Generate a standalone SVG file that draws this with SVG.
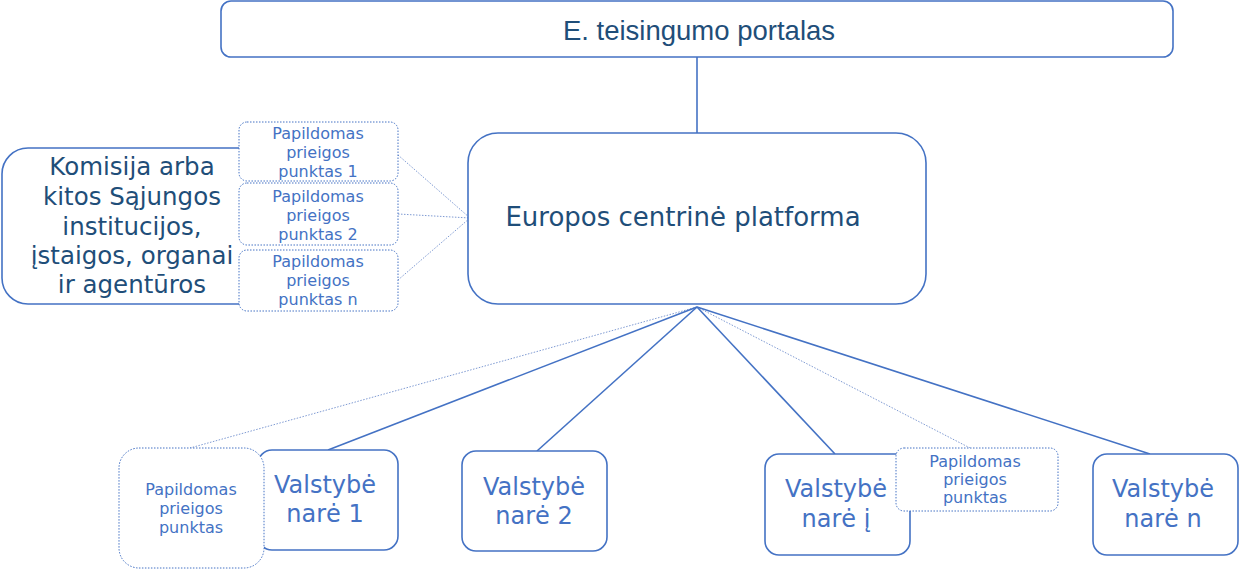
<svg xmlns="http://www.w3.org/2000/svg" width="1240" height="570" viewBox="0 0 1240 570">
<style>
.box{fill:#fff;stroke:#4472C4;stroke-width:1.6}
.dot{fill:#fff;stroke:#4472C4;stroke-width:1;stroke-dasharray:1.5 1.5}
.ln{stroke:#4472C4;stroke-width:1.6;fill:none}
.dl{stroke:#7F9BD3;stroke-width:1;stroke-dasharray:1.5 1.5;fill:none}
.dark{font-family:"DejaVu Sans",Verdana,sans-serif;fill:#1F4E79;text-anchor:middle}
.mid{font-family:"DejaVu Sans",Verdana,sans-serif;fill:#4472C4;text-anchor:middle}
.sm{font-size:16px}
.ms{font-size:24px}
</style>
<g id="connectors">
<line class="ln" x1="697" y1="57" x2="697" y2="133"/>
<line class="dl" x1="398" y1="155" x2="470" y2="218"/>
<line class="dl" x1="398" y1="214" x2="470" y2="218"/>
<line class="dl" x1="398" y1="280" x2="470" y2="218"/>
<line class="dl" x1="697" y1="307" x2="190" y2="448"/>
<line class="ln" x1="697" y1="307" x2="328" y2="450"/>
<line class="ln" x1="697" y1="307" x2="537" y2="451"/>
<line class="ln" x1="697" y1="307" x2="835" y2="454"/>
<line class="dl" x1="697" y1="307" x2="970" y2="448"/>
<line class="ln" x1="697" y1="307" x2="1150" y2="454"/>
</g>
<g id="portal">
<rect class="box" x="221" y="1" width="952" height="56" rx="10"/>
<text class="dark" x="699" y="40" font-size="27.5" style="font-family:'Liberation Sans',Arial,sans-serif">E. teisingumo portalas</text>
</g>
<g id="platform">
<rect class="box" x="468" y="133" width="458" height="171" rx="30"/>
<text class="dark" x="683" y="226" font-size="26">Europos centrinė platforma</text>
</g>
<g id="commission">
<path class="box" d="M300,148 H28 A26,26 0 0 0 2,174 V278 A26,26 0 0 0 28,304 H300"/>
<text class="dark" font-size="24.5"><tspan x="132" y="175">Komisija arba</tspan><tspan x="132" y="205">kitos Sąjungos</tspan><tspan x="132" y="235">institucijos,</tspan><tspan x="132" y="264">įstaigos, organai</tspan><tspan x="132" y="293">ir agentūros</tspan></text>
</g>
<g id="ap1">
<rect class="dot" x="239" y="122" width="159" height="59" rx="8"/>
<text class="mid sm"><tspan x="318" y="139">Papildomas</tspan><tspan x="318" y="158">prieigos</tspan><tspan x="318" y="177">punktas 1</tspan></text>
</g>
<g id="ap2">
<rect class="dot" x="239" y="183" width="159" height="62" rx="8"/>
<text class="mid sm"><tspan x="318" y="202">Papildomas</tspan><tspan x="318" y="221">prieigos</tspan><tspan x="318" y="240">punktas 2</tspan></text>
</g>
<g id="apn">
<rect class="dot" x="239" y="250" width="159" height="61" rx="8"/>
<text class="mid sm"><tspan x="318" y="267">Papildomas</tspan><tspan x="318" y="286">prieigos</tspan><tspan x="318" y="305">punktas n</tspan></text>
</g>
<g id="ms1">
<rect class="box" x="258" y="450" width="140" height="100" rx="14"/>
<text class="mid ms"><tspan x="325" y="493">Valstybė</tspan><tspan x="325" y="522">narė 1</tspan></text>
</g>
<g id="ap-ms1">
<rect class="dot" x="119" y="448" width="145" height="120" rx="20"/>
<text class="mid sm"><tspan x="191" y="495">Papildomas</tspan><tspan x="191" y="514">prieigos</tspan><tspan x="191" y="533">punktas</tspan></text>
</g>
<g id="ms2">
<rect class="box" x="462" y="451" width="145" height="100" rx="14"/>
<text class="mid ms"><tspan x="534" y="495">Valstybė</tspan><tspan x="534" y="524">narė 2</tspan></text>
</g>
<g id="msi">
<rect class="box" x="765" y="454" width="145" height="101" rx="14"/>
<text class="mid ms"><tspan x="836" y="497">Valstybė</tspan><tspan x="836" y="527">narė į</tspan></text>
</g>
<g id="ap-msi">
<rect class="dot" x="896" y="448" width="162" height="63" rx="8"/>
<text class="mid sm"><tspan x="975" y="467">Papildomas</tspan><tspan x="975" y="485">prieigos</tspan><tspan x="975" y="503">punktas</tspan></text>
</g>
<g id="msn">
<rect class="box" x="1093" y="454" width="145" height="101" rx="14"/>
<text class="mid ms"><tspan x="1163" y="497">Valstybė</tspan><tspan x="1163" y="527">narė n</tspan></text>
</g>
</svg>
